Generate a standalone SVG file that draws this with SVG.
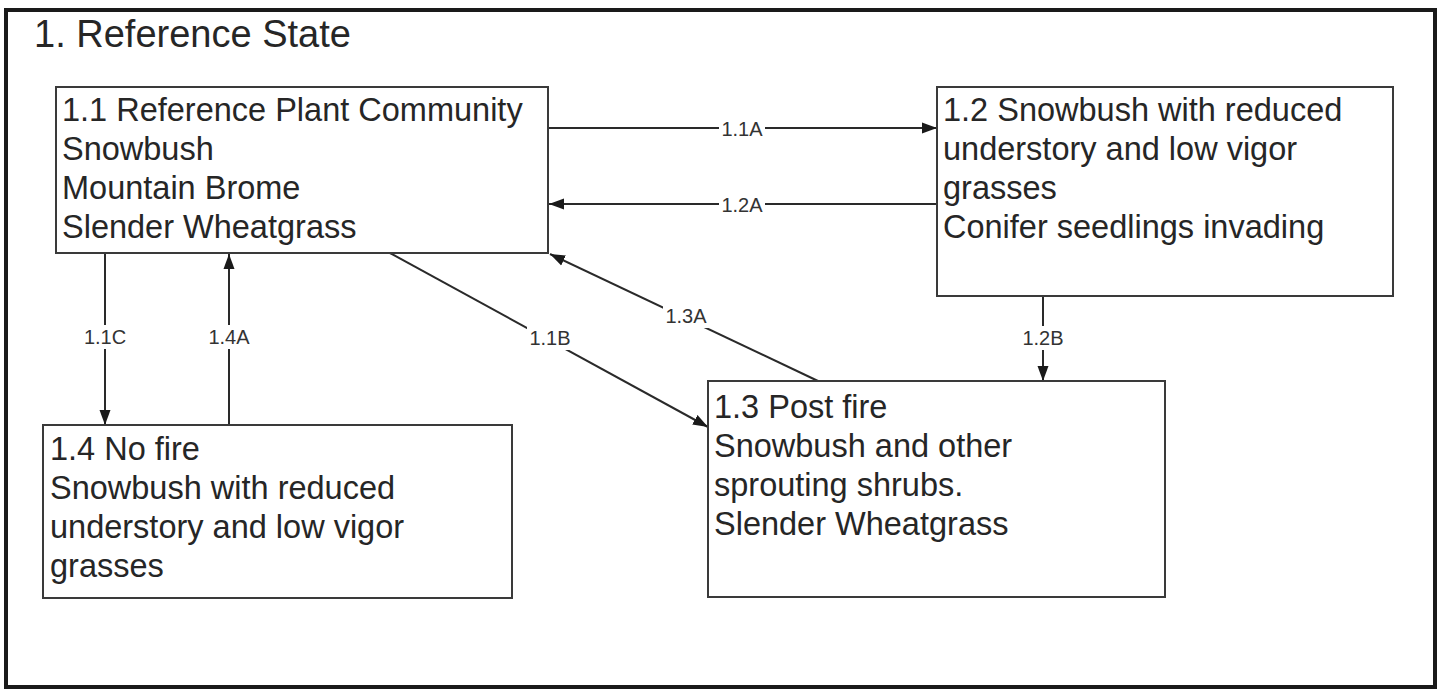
<svg xmlns="http://www.w3.org/2000/svg" width="1444" height="691" viewBox="0 0 1444 691">
<style>
.frame{fill:#fff;stroke:#1a1a1a;stroke-width:4}
.box{fill:#fff;stroke:#3a3a3a;stroke-width:2}
.t{font-family:"Liberation Sans",Arial,sans-serif;font-size:32.5px;fill:#262626}
.title{font-family:"Liberation Sans",Arial,sans-serif;font-size:38px;fill:#262626}
.c{stroke:#2a2a2a;stroke-width:2;fill:none}
.bg{fill:#fff}
.lbl{font-family:"Liberation Sans",Arial,sans-serif;font-size:20px;fill:#333;text-anchor:middle;dominant-baseline:central}
</style>
<defs>
<marker id="ah" markerUnits="userSpaceOnUse" markerWidth="16" markerHeight="12" refX="15" refY="6" orient="auto">
<path d="M0,0.5 L15,6 L0,11.5 z" fill="#1a1a1a"/>
</marker>
</defs>
<rect width="1444" height="691" fill="#fff"/>
<rect class="frame" x="6" y="10" width="1429" height="677"/>
<text class="title" x="34" y="47">1. Reference State</text>

<g id="connectors">
<line class="c" x1="548" y1="128" x2="937" y2="128" marker-end="url(#ah)"/>
<rect class="bg" x="719" y="119" width="46" height="20"/>
<text class="lbl" x="742" y="129">1.1A</text>
<line class="c" x1="937" y1="204" x2="549" y2="204" marker-end="url(#ah)"/>
<rect class="bg" x="719" y="195" width="46" height="20"/>
<text class="lbl" x="742" y="205">1.2A</text>
<line class="c" x1="1043" y1="296" x2="1043" y2="381" marker-end="url(#ah)"/>
<rect class="bg" x="1020" y="326" width="46" height="24"/>
<text class="lbl" x="1043" y="338">1.2B</text>
<line class="c" x1="105" y1="253" x2="105" y2="425" marker-end="url(#ah)"/>
<rect class="bg" x="82" y="325" width="46" height="24"/>
<text class="lbl" x="105" y="337">1.1C</text>
<line class="c" x1="229" y1="425" x2="229" y2="254" marker-end="url(#ah)"/>
<rect class="bg" x="206" y="325" width="46" height="24"/>
<text class="lbl" x="229" y="337">1.4A</text>
<line class="c" x1="390" y1="253" x2="708" y2="427" marker-end="url(#ah)"/>
<rect class="bg" x="527" y="326" width="46" height="24"/>
<text class="lbl" x="550" y="338">1.1B</text>
<line class="c" x1="818" y1="381" x2="550" y2="254" marker-end="url(#ah)"/>
<rect class="bg" x="663" y="304" width="46" height="24"/>
<text class="lbl" x="686" y="316">1.3A</text>
</g>

<g id="n11">
<rect class="box" x="56" y="87" width="492" height="166"/>
<text class="t" x="62" y="121">1.1 Reference Plant Community</text>
<text class="t" x="62" y="160">Snowbush</text>
<text class="t" x="62" y="199">Mountain Brome</text>
<text class="t" x="62" y="238">Slender Wheatgrass</text>
</g>
<g id="n12">
<rect class="box" x="937" y="87" width="456" height="209"/>
<text class="t" x="943" y="121">1.2 Snowbush with reduced</text>
<text class="t" x="943" y="160">understory and low vigor</text>
<text class="t" x="943" y="199">grasses</text>
<text class="t" x="943" y="238">Conifer seedlings invading</text>
</g>
<g id="n13">
<rect class="box" x="708" y="381" width="457" height="216"/>
<text class="t" x="714" y="418">1.3 Post fire</text>
<text class="t" x="714" y="457">Snowbush and other</text>
<text class="t" x="714" y="496">sprouting shrubs.</text>
<text class="t" x="714" y="535">Slender Wheatgrass</text>
</g>
<g id="n14">
<rect class="box" x="43" y="425" width="469" height="173"/>
<text class="t" x="50" y="460">1.4 No fire</text>
<text class="t" x="50" y="499">Snowbush with reduced</text>
<text class="t" x="50" y="538">understory and low vigor</text>
<text class="t" x="50" y="577">grasses</text>
</g>
</svg>
